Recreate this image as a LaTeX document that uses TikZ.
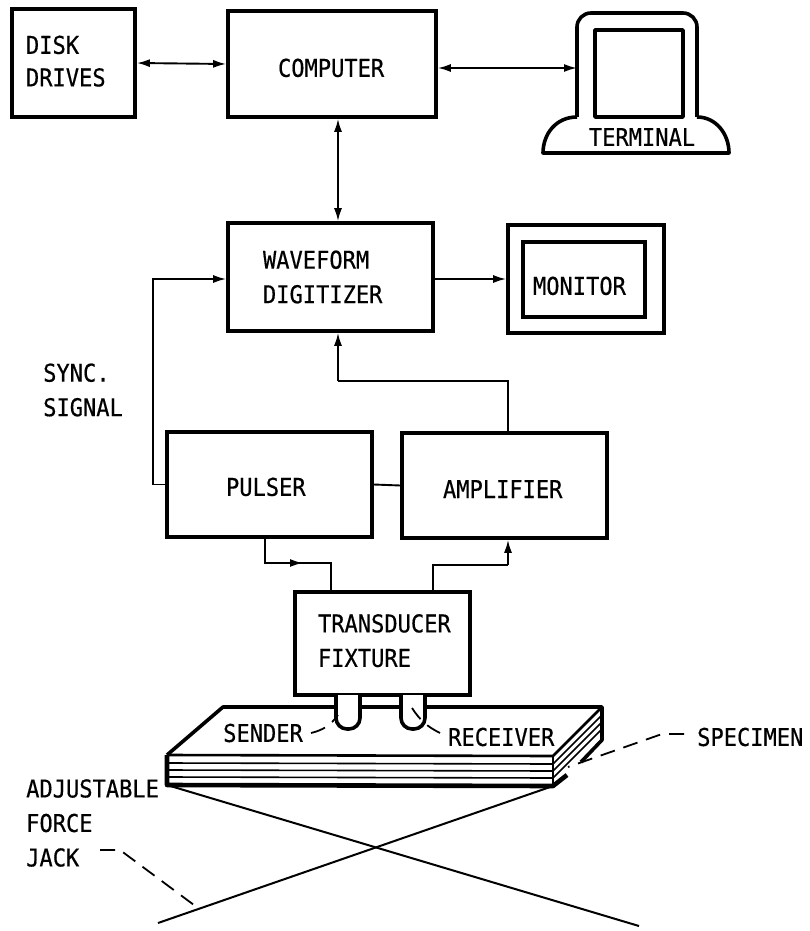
\documentclass[tikz,border=0pt]{standalone}
\usepackage{fontspec}
\setmainfont[FakeStretch=0.9,FakeBold=0.5]{DejaVu Sans Mono}
\usetikzlibrary{
  calc,
  positioning,
  arrows.meta
}

\begin{document}
\begin{tikzpicture}[x=1pt,y=-1pt,>={Latex[length=13pt,width=8pt]}]
  \tikzset{
    every node/.style={font=\fontsize{24.5}{34.5}\selectfont},
    unit/.style n args={3}{draw, line width=3.6pt, inner ysep=0pt, align=left,
      minimum width=#1pt, minimum height=#2pt, inner xsep=#3pt, text width=#1pt-2*#3pt},
    signal/.style={line width=1.9pt},
    leader/.style={line width=1.8pt, dash pattern=on 15pt off 9pt},
    outline/.style={line width=3.6pt, line join=round},
    layer/.style={line width=1.6pt},
    caption/.style={inner sep=0pt, align=left, anchor=west}
  }
\useasboundingbox (0,0) rectangle (809,931);

% blocks
\node[unit={123}{108}{14}] (disk) at (73.5,63) {DISK\\[-2pt]DRIVES\rule[-4pt]{0pt}{0pt}};
\node[unit={208}{106}{50}] (computer) at (332,64) {\rule{0pt}{26pt}COMPUTER};
\node[unit={205}{108}{35}] (digitizer) at (330.5,277) {WAVEFORM\\DIGITIZER};
\node[unit={156}{108}{10}] (monitor) at (586,279) {};
\node[unit={122}{75}{10}] (screen) at (584,279.5) {\rule{0pt}{31pt}MONITOR};
\node[unit={205}{105}{59}] (pulser) at (269.5,484.5) {\rule{0pt}{23pt}PULSER};
\node[unit={205}{105}{41}] (amplifier) at (504.5,485.5) {\rule{0pt}{25pt}AMPLIFIER};
\node[unit={175}{103}{23}] (fixture) at (382.5,643.5) {TRANSDUCER\\FIXTURE\rule[-6pt]{0pt}{0pt}};

% terminal
\draw[outline, rounded corners=14pt] (577,117) -- (577,13) -- (697,13) -- (697,117);
\draw[outline] (577,117) .. controls (556,117) and (543,134) .. (543,153) -- (729,153)
  .. controls (729,134) and (716,117) .. (697,117);
\draw[outline] (595,30) rectangle (683,117);
\node[inner sep=0pt] (terminal) at (642,137) {TERMINAL};
\coordinate (termport) at (577,68);

% specimen
\coordinate (fl) at (167,755);
\coordinate (fr) at (553,756);
\coordinate (bl) at (223,707);
\coordinate (br) at (602,707);
\foreach \d in {8,15,22}{
  \draw[layer] ($(fl)+(0,\d)$) -- ($(fr)+(0,\d)$) -- ($(br)+(0,\d)$);
}
\draw[outline] (fl) -- (bl) -- (br) -- (602,740) -- (581,762);
\draw[outline, line width=4.6pt] (567,775) -- (553,786) -- (167,785) -- (fl);
\draw[line width=2.6pt] (fl) -- (fr) -- (br);
\draw[line width=2.6pt] (fr) -- (553,786);

% transducers
\draw[outline, fill=white, rounded corners=11pt] (336,695) -- (336,729) -- (360,729) -- (360,695);
\draw[outline, fill=white, rounded corners=11pt] (401,695) -- (401,729) -- (425,729) -- (425,695);

% force jack
\draw[line width=2pt] (167,785) -- (639,926);
\draw[line width=2pt] (553,786) -- (158,923);

% connectors
\coordinate (bus) at (338,381);
\coordinate (ampup) at (508,381);
\coordinate (syncbend) at (153,279);
\coordinate (pulserout) at (265,563);
\coordinate (fixturein) at (331,563);
\coordinate (fixtureout) at (433,565);
\coordinate (ampin) at (508,565);
\draw[signal, <->] (disk.east) -- (computer.west);
\draw[signal, <->] (computer.east |- termport) -- (termport);
\draw[signal, <->] (bus |- computer.south) -- (bus |- digitizer.north);
\draw[signal, ->] (digitizer.east |- monitor.west) -- (monitor.west);
\draw[signal, ->] (pulser.west) -| (syncbend) -- (syncbend -| digitizer.west);
\draw[signal] (ampup |- amplifier.north) -- (ampup) -- (bus);
\draw[signal, ->] (bus) -- (bus |- digitizer.south);
\draw[signal] (pulser.east) -- (amplifier.west);
\draw[signal] (pulserout |- pulser.south) -- (pulserout) -- (fixturein) -- (fixturein |- fixture.north);
\draw[signal, ->] (pulserout) -- ++(38,0);
\draw[signal] (fixtureout |- fixture.north) -- (fixtureout) -- (ampin);
\draw[signal, ->] (ampin) -- (ampin |- amplifier.south);

% labels
\node[caption] (sync) at (43,390) {SYNC.\\SIGNAL};
\node[caption] (sender) at (223,733) {SENDER};
\node[caption] (receiver) at (448,737) {RECEIVER};
\node[caption] (specimen) at (697,737) {SPECIMEN};
\node[caption] (jack) at (26,823) {ADJUSTABLE\\FORCE\\JACK};

\coordinate (sendertip) at (338,715);
\coordinate (receivertip) at (412,708);
\coordinate (specimenend) at (684,734);
\coordinate (specimentip) at (568,767);
\coordinate (jackend) at (100,850);
\coordinate (jacktip) at (198,908);
\draw[leader] (sender.east) ++(8,0) to[bend right=20] (sendertip);
\draw[leader] (receiver.west) ++(-8,-4) to[bend left=15] (receivertip);
\draw[leader] (specimenend) -- ++(-22,0) -- (specimentip);
\draw[leader] (jackend) -- ++(20,0) -- (jacktip);

\end{tikzpicture}
\end{document}
